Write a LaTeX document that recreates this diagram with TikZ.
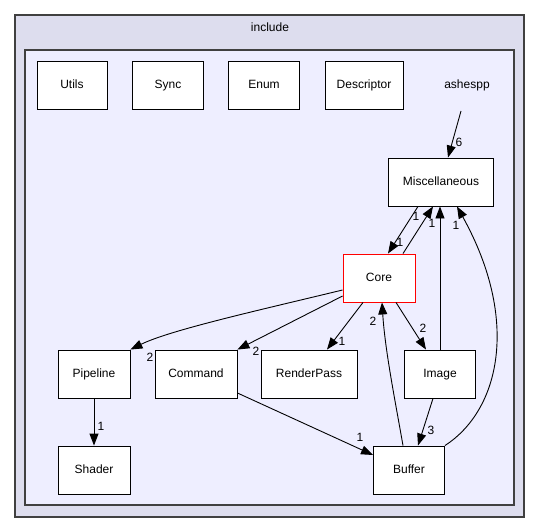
\documentclass[tikz,border=0pt]{standalone}
\usepackage{fontspec}
\setmainfont{Liberation Sans}
\usetikzlibrary{arrows.meta}
\definecolor{outerfill}{HTML}{DDDDEE}
\definecolor{innerfill}{HTML}{EEEEFF}
\definecolor{frame}{HTML}{404040}
\begin{document}
\begin{tikzpicture}[x=1pt,y=-1pt,
  every node/.style={font=\fontsize{12}{14}\selectfont},
  dirbox/.style={draw=black,fill=white,line width=0.9pt,minimum height=48pt,inner sep=0pt,
    text height=9pt,text depth=2.5pt},
  dep/.style={draw=black,line width=0.9pt,-{Triangle[length=12pt,width=9pt]}},
  lbl/.style={inner sep=0pt,font=\fontsize{12}{14}\selectfont}]
\useasboundingbox (0,0) rectangle (541,532);
% enclosing directories
\draw[frame,fill=outerfill,line width=1.2pt] (15,15) rectangle (524,517);
\node (title) at (270,27) {include};
\draw[frame,fill=innerfill,line width=1.2pt] (25,50) rectangle (514,505);
% directory nodes
\node[dirbox,minimum width=70pt] (utils) at (72,85) {Utils};
\node[dirbox,minimum width=71pt] (sync) at (168,85) {Sync};
\node[dirbox,minimum width=71pt] (enum) at (264,85) {Enum};
\node[dirbox,minimum width=78pt] (desc) at (364,85) {Descriptor};
\node[inner sep=2pt] (ashespp) at (467,85) {ashespp};
\node[dirbox,minimum width=105pt] (misc) at (441,182) {Miscellaneous};
\node[dirbox,draw=red,minimum width=72pt] (core) at (379,278) {Core};
\node[dirbox,minimum width=72pt] (pipe) at (94,374) {Pipeline};
\node[dirbox,minimum width=82pt] (cmd) at (196,374) {Command};
\node[dirbox,minimum width=96pt] (rp) at (309,374) {RenderPass};
\node[dirbox,minimum width=71pt] (image) at (440,374) {Image};
\node[dirbox,minimum width=72pt] (shader) at (94,470) {Shader};
\node[dirbox,minimum width=71pt] (buffer) at (409,470) {Buffer};
% dependencies
\draw[dep] (461,111) -- (misc.north -| 448,0);
\node[lbl] (l6) at (459,142) {6};
\draw[dep] (misc.south -| 418,0) -- (core.north -| 388,0);
\node[lbl] (l1a) at (400,242) {1};
\draw[dep] (core.north -| 403,0) -- (misc.south -| 433,0);
\node[lbl] (l1b) at (416,216) {1};
\draw[dep] (image.north) -- (misc.south -| image.north);
\node[lbl] (l1c) at (432,223) {1};
\draw[dep] (buffer.north east) .. controls (500,410) and (520,320) .. (misc.south -| 457,0);
\node[lbl] (l1d) at (456,225) {1};
\draw[dep] (core.west |- 0,290) .. controls (260,310) and (170,330) .. (pipe.north east);
\node[lbl] (l2a) at (150,357) {2};
\draw[dep] (core.west |- 0,296) -- (cmd.north east);
\node[lbl] (l2b) at (256,351) {2};
\draw[dep] (core.south -| 363,0) -- (rp.north -| 327,0);
\node[lbl] (l1e) at (342,341) {1};
\draw[dep] (core.south -| 396,0) -- (image.north -| 426,0);
\node[lbl] (l2c) at (423,328) {2};
\draw[dep] (pipe) -- (shader);
\node[lbl] (l1f) at (101,426) {1};
\draw[dep] (cmd.south east |- 0,393) -- (buffer.west |- 0,455);
\node[lbl] (l1g) at (360,437) {1};
\draw[dep] (image.south -| 433,0) -- (buffer.north -| 418,0);
\node[lbl] (l3) at (431,430) {3};
\draw[dep] (buffer.north -| 403,0) .. controls (395,400) and (385,350) .. (core.south -| 382,0);
\node[lbl] (l2d) at (373,321) {2};
\end{tikzpicture}
\end{document}
